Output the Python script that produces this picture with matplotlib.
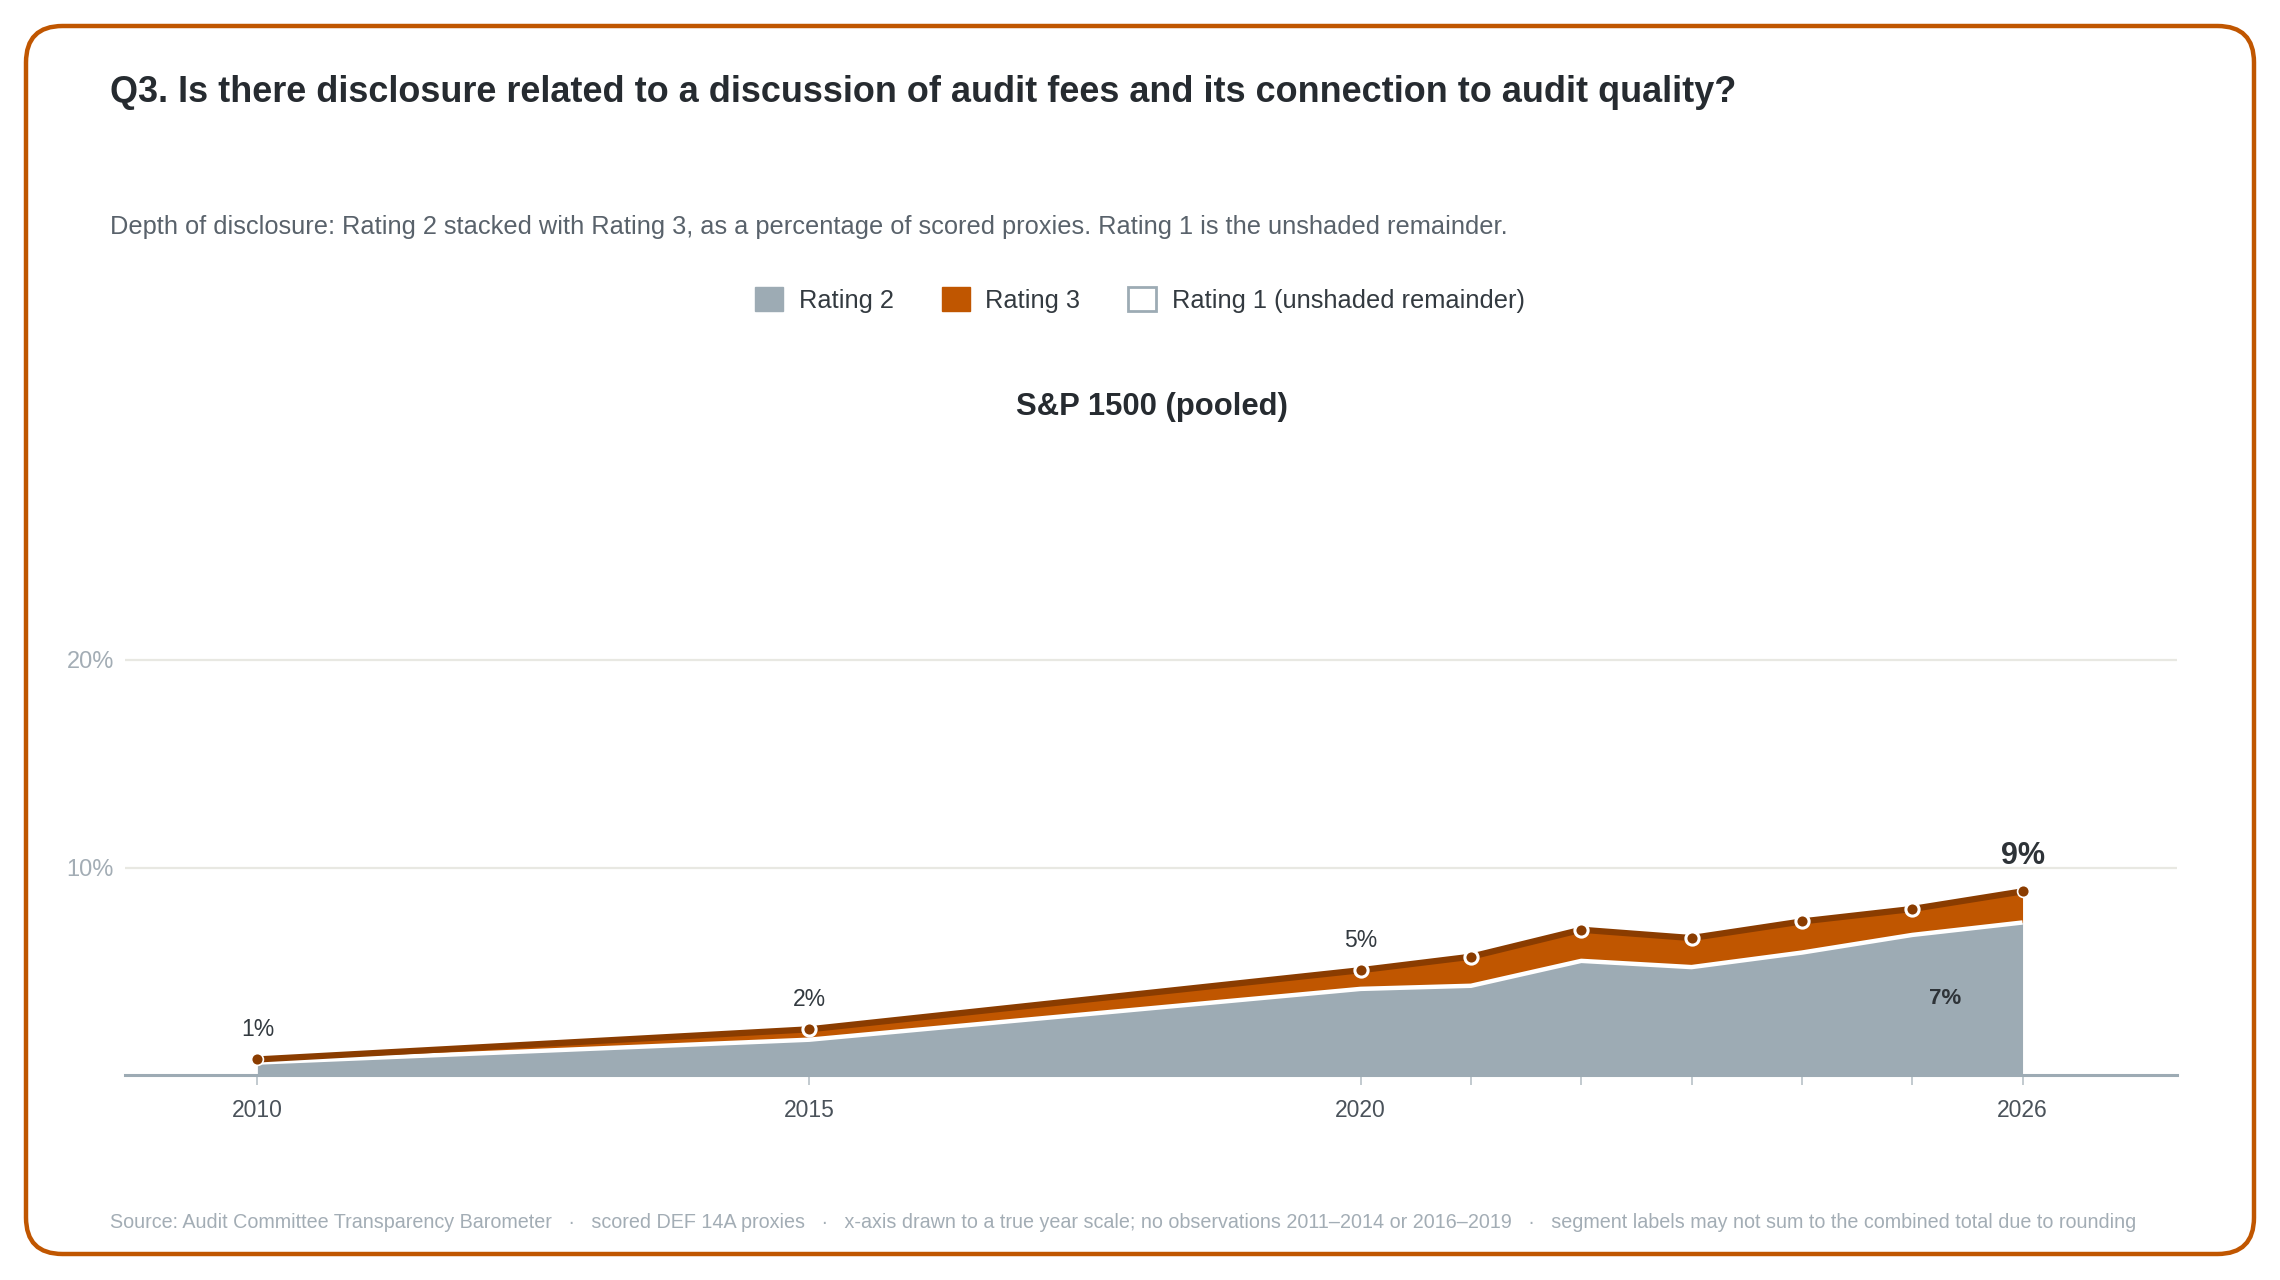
import matplotlib
matplotlib.use("Agg")
import matplotlib.pyplot as plt
from matplotlib.patches import FancyBboxPatch, Patch
from matplotlib.ticker import FuncFormatter

plt.rcParams['font.family'] = ['Liberation Sans', 'DejaVu Sans']

# data (percent of scored proxies)
years = [2010, 2015, 2020, 2021, 2022, 2023, 2024, 2025, 2026]
rating2 = [0.6, 1.7, 4.15, 4.3, 5.5, 5.2, 5.9, 6.75, 7.35]
rating3 = [0.15, 0.5, 0.9, 1.4, 1.5, 1.4, 1.5, 1.25, 1.5]
tick_years = [2010, 2015, 2020, 2026]
point_labels = {2010: "1%", 2015: "2%", 2020: "5%"}

GREY = "#9dabb4"
ORANGE = "#c05600"
DARK = "#8a3c00"
TEXT = "#262b30"
MUTED = "#a3adb5"

W, H = 2280, 1280
fig = plt.figure(figsize=(W / 100, H / 100), dpi=100)


def fx(px):
    return px / W


def fy(py):
    return 1 - py / H


# rounded card border
card = FancyBboxPatch((fx(26), fy(1254)), fx(2228), fy(26) - fy(1254),
                      boxstyle="round,pad=0,rounding_size=0.016",
                      transform=fig.transFigure, fill=False,
                      edgecolor=ORANGE, linewidth=3.2, mutation_aspect=W / H)
fig.patches.append(card)

fig.text(fx(110), fy(93), "Q3. Is there disclosure related to a discussion of audit fees and its connection to audit quality?",
         fontsize=25.9, fontweight="bold", color=TEXT, va="center")
fig.text(fx(110), fy(227), "Depth of disclosure: Rating 2 stacked with Rating 3, as a percentage of scored proxies. Rating 1 is the unshaded remainder.",
         fontsize=18.3, color="#59626b", va="center")

handles = [Patch(facecolor=GREY, edgecolor=GREY, label="Rating 2"),
           Patch(facecolor=ORANGE, edgecolor=ORANGE, label="Rating 3"),
           Patch(facecolor="white", edgecolor=GREY, linewidth=2, label="Rating 1 (unshaded remainder)")]
fig.legend(handles=handles, loc="center", bbox_to_anchor=(fx(1140), fy(300)), ncol=3,
           frameon=False, fontsize=18.3, handlelength=1.1, handleheight=1.1,
           handletextpad=0.6, columnspacing=1.9, labelcolor="#333a40")

fig.text(fx(1152), fy(407), "S&P 1500 (pooled)", fontsize=22.3, fontweight="bold",
         color=TEXT, ha="center", va="center")

ax = fig.add_axes([fx(125), fy(1075), fx(2177) - fx(125), 518.75 / H])
total = [a + b for a, b in zip(rating2, rating3)]

ax.fill_between(years, 0, rating2, color=GREY, linewidth=0, zorder=2)
ax.fill_between(years, rating2, total, color=ORANGE, linewidth=0, zorder=2)
ax.plot(years, rating2, color="white", linewidth=3.2, zorder=3, solid_capstyle="butt")
ax.plot(years, total, color=DARK, linewidth=4.5, zorder=4, solid_capstyle="butt")
ax.plot(years[1:-1], total[1:-1], "o", markersize=9.5, markerfacecolor=DARK,
        markeredgecolor="white", markeredgewidth=2.2, zorder=5)
ax.plot([years[0], years[-1]], [total[0], total[-1]], "o", markersize=8.5,
        markerfacecolor=DARK, markeredgecolor="white", markeredgewidth=1.2, zorder=5)

for yr, lab in point_labels.items():
    i = years.index(yr)
    ax.annotate(lab, (yr, total[i]), xytext=(0, 13), textcoords="offset points",
                ha="center", va="bottom", fontsize=16.5, color="#333a40", zorder=6)
ax.annotate("9%", (years[-1], total[-1]), xytext=(0, 15), textcoords="offset points",
            ha="center", va="bottom", fontsize=22, fontweight="bold", color="#2e3338", zorder=6)
ax.text(years[-1] - 0.7, rating2[-1] / 2, "7%", ha="center", va="center",
        fontsize=16, fontweight="bold", color="#2e3338", zorder=6)

ax.set_xlim(2008.8, 2027.4)
ax.set_ylim(0, 25)
ax.set_yticks([10, 20])
ax.yaxis.set_major_formatter(FuncFormatter(lambda v, p: f"{v:.0f}%"))
ax.set_xticks(years)
ax.set_xticklabels([str(y) if y in tick_years else "" for y in years])
ax.grid(axis="y", color="#e8e8e2", linewidth=1.6, zorder=0)
ax.set_axisbelow(True)
for s in ["top", "right", "left"]:
    ax.spines[s].set_visible(False)
ax.spines["bottom"].set_color(GREY)
ax.spines["bottom"].set_linewidth(2.2)
ax.spines["bottom"].set_zorder(6)
ax.tick_params(axis="x", length=7, width=1.2, color="#b8c1c7", labelsize=16.5,
               labelcolor="#4a525a", pad=10)
ax.tick_params(axis="y", length=0, labelsize=17, labelcolor=MUTED, pad=8)

fig.text(fx(110), fy(1223),
         "Source: Audit Committee Transparency Barometer   \u00b7   scored DEF 14A proxies   \u00b7   "
         "x-axis drawn to a true year scale; no observations 2011\u20132014 or 2016\u20132019   \u00b7   "
         "segment labels may not sum to the combined total due to rounding",
         fontsize=14.2, color=MUTED, va="center")

fig.savefig("out.png", dpi=100, facecolor="white")
